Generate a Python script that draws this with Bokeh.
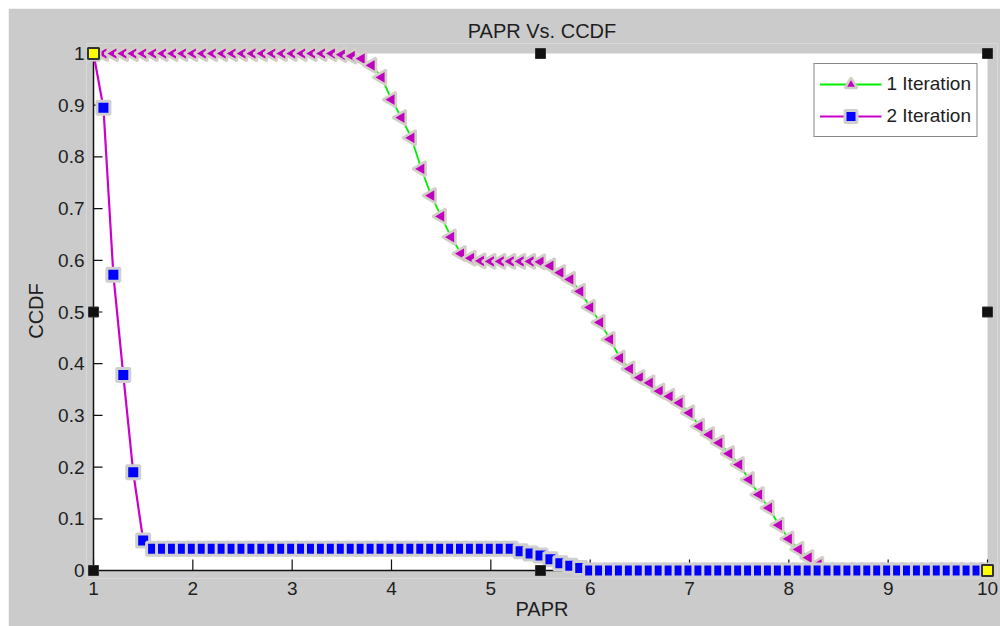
from math import pi
from bokeh.plotting import figure
from bokeh.models import Range1d, FixedTicker, BoxAnnotation, Legend, LegendItem
from bokeh.embed import file_html
from bokeh.resources import INLINE

# ---------------- data ----------------
papr = [1.0, 1.1, 1.2, 1.3, 1.4, 1.5, 1.6, 1.7, 1.8, 1.9,
        2.0, 2.1, 2.2, 2.3, 2.4, 2.5, 2.6, 2.7, 2.8, 2.9,
        3.0, 3.1, 3.2, 3.3, 3.4, 3.5, 3.6, 3.7, 3.8, 3.9,
        4.0, 4.1, 4.2, 4.3, 4.4, 4.5, 4.6, 4.7, 4.8, 4.9,
        5.0, 5.1, 5.2, 5.3, 5.4, 5.5, 5.6, 5.7, 5.8, 5.9,
        6.0, 6.1, 6.2, 6.3, 6.4, 6.5, 6.6, 6.7, 6.8, 6.9,
        7.0, 7.1, 7.2, 7.3, 7.4, 7.5, 7.6, 7.7, 7.8, 7.9,
        8.0, 8.1, 8.2, 8.3, 8.4, 8.5, 8.6, 8.7, 8.8, 8.9,
        9.0, 9.1, 9.2, 9.3, 9.4, 9.5, 9.6, 9.7, 9.8, 9.9,
        10.0]

ccdf_1_iteration = [
    1.0, 1.0, 1.0, 1.0, 1.0, 1.0, 1.0, 1.0, 1.0, 1.0,
    1.0, 1.0, 1.0, 1.0, 1.0, 1.0, 1.0, 1.0, 1.0, 1.0,
    1.0, 1.0, 1.0, 1.0, 1.0, 0.998, 0.995, 0.99, 0.977, 0.954,
    0.911, 0.876, 0.837, 0.777, 0.725, 0.685, 0.645, 0.613, 0.604, 0.599,
    0.598, 0.598, 0.598, 0.598, 0.598, 0.597, 0.589, 0.576, 0.563, 0.540,
    0.509, 0.480, 0.447, 0.411, 0.390, 0.373, 0.363, 0.347, 0.337, 0.324,
    0.305, 0.279, 0.263, 0.247, 0.226, 0.205, 0.176, 0.147, 0.121, 0.088,
    0.061, 0.041, 0.025, 0.012, 0.0, 0.0, 0.0, 0.0, 0.0, 0.0,
    0.0, 0.0, 0.0, 0.0, 0.0, 0.0, 0.0, 0.0, 0.0, 0.0,
    0.0]

ccdf_2_iteration = [
    1.0, 0.895, 0.572, 0.378, 0.19, 0.058, 0.042, 0.042, 0.042, 0.042,
    0.042, 0.042, 0.042, 0.042, 0.042, 0.042, 0.042, 0.042, 0.042, 0.042,
    0.042, 0.042, 0.042, 0.042, 0.042, 0.042, 0.042, 0.042, 0.042, 0.042,
    0.042, 0.042, 0.042, 0.042, 0.042, 0.042, 0.042, 0.042, 0.042, 0.042,
    0.042, 0.042, 0.042, 0.037, 0.033, 0.029, 0.022, 0.014, 0.009, 0.005,
    0.0, 0.0, 0.0, 0.0, 0.0, 0.0, 0.0, 0.0, 0.0, 0.0,
    0.0, 0.0, 0.0, 0.0, 0.0, 0.0, 0.0, 0.0, 0.0, 0.0,
    0.0, 0.0, 0.0, 0.0, 0.0, 0.0, 0.0, 0.0, 0.0, 0.0,
    0.0, 0.0, 0.0, 0.0, 0.0, 0.0, 0.0, 0.0, 0.0, 0.0,
    0.0]

x_ticks = [1, 2, 3, 4, 5, 6, 7, 8, 9, 10]
y_ticks = [0, 0.1, 0.2, 0.3, 0.4, 0.5, 0.6, 0.7, 0.8, 0.9, 1]
y_tick_labels = ["0", "0.1", "0.2", "0.3", "0.4", "0.5", "0.6", "0.7", "0.8", "0.9", "1"]

series_labels = ["1 Iteration", "2 Iteration"]
title_text = "PAPR Vs. CCDF"
x_label = "PAPR"
y_label = "CCDF"

# selection handles of the edited axes (black) and the two yellow ones
handle_black_x = [5.5, 10, 1, 10, 5.5, 1]
handle_black_y = [1, 1, 0.5, 0.5, 0, 0]
handle_yellow_x = [1, 10]
handle_yellow_y = [1, 0]

# ---------------- styling ----------------
FONT = "Liberation Sans"
GREY = "#cbcbcb"
TXT = "#1e1e1e"
X0, X1 = x_ticks[0], x_ticks[-1]
Y0, Y1 = y_ticks[0], y_ticks[-1]
PX_X = 99.33   # pixels per x unit
PX_Y = 517.0   # pixels per y unit

p = figure(width=992, height=618, output_backend="svg", toolbar_location=None,
           x_range=Range1d(X0 - 7 / PX_X, X1 + 10 / PX_X),
           y_range=Range1d(Y0 - 8 / PX_Y, Y1 + 10 / PX_Y),
           min_border_left=78, min_border_right=3, min_border_top=35, min_border_bottom=48,
           background_fill_color=GREY, border_fill_color=GREY, outline_line_color=None,
           title=title_text)
p.margin = (8, 0, 0, 8)

p.grid.visible = False

p.title.align = "center"
p.title.text_font = FONT
p.title.text_font_size = "20px"
p.title.text_font_style = "normal"
p.title.text_color = TXT
p.title.standoff = 4
p.title.offset = -6

white = BoxAnnotation(left=X0, right=X1, bottom=Y0, top=Y1, fill_color="white", fill_alpha=1.0,
                      line_color=None, level="underlay")
p.add_layout(white)

# axes: only labels, at the frame edges
for ax in (p.xaxis, p.yaxis):
    ax.axis_line_color = None
    ax.major_tick_line_color = None
    ax.minor_tick_line_color = None
    ax.major_tick_in = 0
    ax.major_tick_out = 0
    ax.major_label_text_font = FONT
    ax.major_label_text_font_size = "19px"
    ax.major_label_text_color = TXT
    ax.axis_label_text_font = FONT
    ax.axis_label_text_font_size = "20px"
    ax.axis_label_text_font_style = "normal"
    ax.axis_label_text_color = TXT

p.xaxis.ticker = FixedTicker(ticks=x_ticks)
p.xaxis.major_label_standoff = 3
p.xaxis.axis_label = x_label
p.xaxis.axis_label_standoff = 0

p.yaxis.ticker = FixedTicker(ticks=y_ticks)
p.yaxis.major_label_overrides = dict(zip(y_ticks, y_tick_labels))
p.yaxis.major_label_standoff = 2
p.yaxis.axis_label = y_label
p.yaxis.axis_label_standoff = 8

# axis lines and inward ticks drawn at data 0 / 1
p.segment(x0=[X0, X0], y0=[Y0, Y0], x1=[X1, X0], y1=[Y0, Y1],
          line_color="#111111", line_width=1.5)
p.segment(x0=x_ticks, y0=[Y0] * len(x_ticks), x1=x_ticks, y1=[Y0 + 11 / PX_Y] * len(x_ticks),
          line_color="#111111", line_width=1.2)
p.segment(x0=[X0] * len(y_ticks), y0=y_ticks, x1=[X0 + 9 / PX_X] * len(y_ticks), y1=y_ticks,
          line_color="#111111", line_width=1.2)

# series 1: green line + magenta left triangles
l1 = p.line(papr, ccdf_1_iteration, line_color="#00ee00", line_width=1.8)
s1 = p.scatter(papr, ccdf_1_iteration, marker="triangle", angle=pi / 2, size=15,
               fill_color="#c000c0", line_color="#d3cfc7", line_width=2.6)

# series 2: magenta line + blue squares
l2 = p.line(papr, ccdf_2_iteration, line_color="#cc00cc", line_width=2.2)
s2 = p.scatter(papr, ccdf_2_iteration, marker="square", size=13,
               fill_color="#0000ff", line_color="#cfcfcf", line_width=3)

# handles
p.scatter(handle_black_x, handle_black_y, marker="square", size=10,
          fill_color="#111111", line_color="#333333", line_width=1)
p.scatter(handle_yellow_x, handle_yellow_y, marker="square", size=11,
          fill_color="#ffff00", line_color="#333333", line_width=2)

legend = Legend(items=[LegendItem(label=series_labels[0], renderers=[l1, s1]),
                       LegendItem(label=series_labels[1], renderers=[l2, s2])],
                location="top_right", margin=20, padding=5, spacing=2,
                glyph_width=62, glyph_height=30, label_standoff=5,
                label_text_font=FONT, label_text_font_size="19px", label_text_color=TXT,
                border_line_color="#111111", border_line_width=1,
                background_fill_color="white", background_fill_alpha=1.0)
p.add_layout(legend)

open("out.html", "w").write(file_html(p, INLINE))
